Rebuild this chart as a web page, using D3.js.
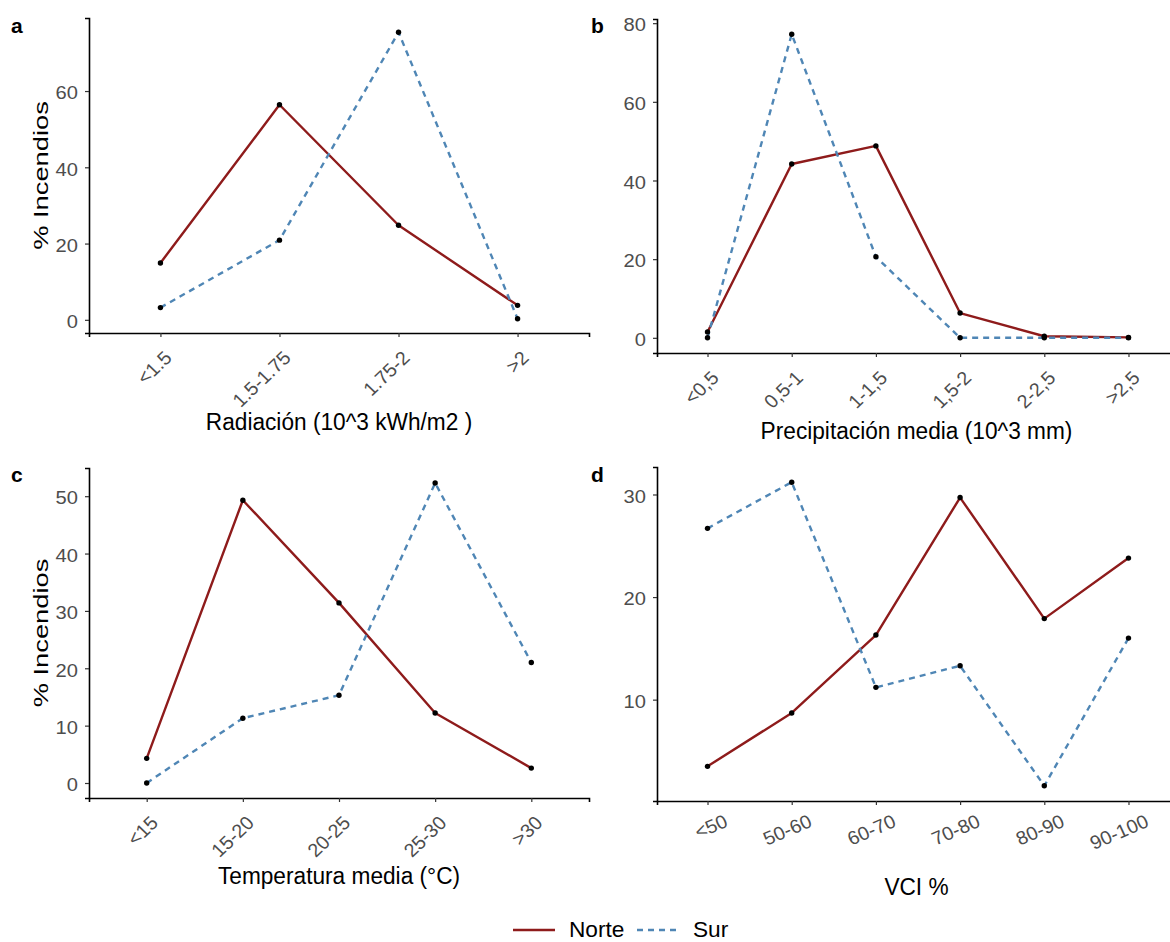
<!DOCTYPE html>
<html>
<head>
<meta charset="utf-8">
<script src="https://cdn.jsdelivr.net/npm/d3@7"></script>
<style>
  html, body { margin: 0; padding: 0; background: #fff; }
  svg { display: block; }
  text { font-family: "Liberation Sans", Arial, sans-serif; }
</style>
</head>
<body>
<svg id="chart" width="1170" height="942"></svg>
<script>
// ---------------- DATA ----------------
const seriesNames = ["Norte", "Sur"];

const catA = ["<1.5", "1.5-1.75", "1.75-2", ">2"];
const norteA = [14.9, 56.4, 24.8, 3.8];
const surA = [3.2, 20.9, 75.4, 0.3];
const ticksA = [0, 20, 40, 60];

const catB = ["<0,5", "0,5-1", "1-1,5", "1,5-2", "2-2,5", ">2,5"];
const norteB = [1.5, 44.2, 48.8, 6.3, 0.4, 0.1];
const surB = [0, 77.2, 20.6, 0, 0, 0];
const ticksB = [0, 20, 40, 60, 80];

const catC = ["<15", "15-20", "20-25", "25-30", ">30"];
const norteC = [4.3, 49.3, 31.4, 12.2, 2.6];
const surC = [0, 11.3, 15.3, 52.3, 21.0];
const ticksC = [0, 10, 20, 30, 40, 50];

const catD = ["<50", "50-60", "60-70", "70-80", "80-90", "90-100"];
const norteD = [3.5, 8.7, 16.3, 29.7, 17.9, 23.8];
const surD = [26.7, 31.2, 11.2, 13.3, 1.6, 16.0];
const ticksD = [10, 20, 30];

const xTitles = ["Radiación (10^3 kWh/m2 )", "Precipitación media (10^3 mm)", "Temperatura media (°C)", "VCI %"];
const yTitle = "% Incendios";
const tags = ["a", "b", "c", "d"];

// ---------------- STYLE / LAYOUT ----------------
const colNorte = "#8E1B1B";
const colSur = "#4F86B5";
const tickCol = "#4D4D4D";
const tickFont = 19, titleFont = 21;

const panels = [
  { cats: catA, norte: norteA, sur: surA, ticks: ticksA, xt: xTitles[0], tag: tags[0], yt: true,
    x0: 89, x1: 589, top: 18, bottom: 333, ang: -45, titleY: 430, tagX: 11, tagY: 33 },
  { cats: catB, norte: norteB, sur: surB, ticks: ticksB, xt: xTitles[1], tag: tags[1], yt: false,
    x0: 657, x1: 1179, top: 19, bottom: 353, ang: -45, titleY: 439, tagX: 591, tagY: 33 },
  { cats: catC, norte: norteC, sur: surC, ticks: ticksC, xt: xTitles[2], tag: tags[2], yt: true,
    x0: 89, x1: 589, top: 468, bottom: 798, ang: -45, titleY: 884, tagX: 11, tagY: 482 },
  { cats: catD, norte: norteD, sur: surD, ticks: ticksD, xt: xTitles[3], tag: tags[3], yt: false,
    x0: 657, x1: 1179, top: 467, bottom: 801, ang: -24, titleY: 895, tagX: 591, tagY: 482 }
];

const svg = d3.select("#chart");

function place(sel, x, y, rot, sx, sy) {
  sel.attr("transform", `translate(${x},${y}) scale(${sx},${sy})` + (rot ? ` rotate(${rot})` : ""));
}

panels.forEach(p => {
  const n = p.cats.length;
  const x = d3.scaleLinear().domain([0.4, n + 0.6]).range([p.x0, p.x1]);
  const all = p.norte.concat(p.sur);
  const lo = d3.min(all), hi = d3.max(all), pad = (hi - lo) * 0.05;
  const y = d3.scaleLinear().domain([lo - pad, hi + pad]).range([p.bottom, p.top]);

  const g = svg.append("g");

  // axes
  const xAxis = d3.axisBottom(x).tickValues(d3.range(1, n + 1)).tickFormat(i => p.cats[i - 1])
    .tickSizeOuter(0).tickSize(4).tickPadding(3);
  const gx = g.append("g").attr("transform", `translate(0,${p.bottom})`).call(xAxis);
  gx.select(".domain").attr("stroke", "#000").attr("stroke-width", 1.6);
  gx.selectAll(".tick line").attr("stroke", "#333").attr("stroke-width", 1.2);
  gx.selectAll(".tick text")
    .attr("fill", tickCol).attr("font-size", tickFont).attr("text-anchor", "end")
    .attr("dy", null).attr("y", null)
    .each(function() {
      const t = d3.select(this);
      if (p.ang === -45) place(t, 12, 26, p.ang, 1.04, 1);
      else place(t, 21, 25, p.ang, 1.04, 1);
    });

  const yAxis = d3.axisLeft(y).tickValues(p.ticks).tickSizeOuter(0).tickSize(4).tickPadding(3);
  const gy = g.append("g").attr("transform", `translate(${p.x0},0)`).call(yAxis);
  gy.select(".domain").attr("stroke", "#000").attr("stroke-width", 1.6);
  gy.selectAll(".tick line").attr("stroke", "#333").attr("stroke-width", 1.2);
  gy.selectAll(".tick text").attr("fill", tickCol).attr("font-size", tickFont)
    .attr("x", null).attr("dy", null).attr("dominant-baseline", "central").attr("text-anchor", "end")
    .each(function() { place(d3.select(this), -11, 1, 0, 1.06, 1); });

  // lines
  const line = d3.line().x((d, i) => x(i + 1)).y(d => y(d));
  g.append("path").datum(p.norte).attr("d", line).attr("fill", "none")
    .attr("stroke", colNorte).attr("stroke-width", 2.4).attr("stroke-linejoin", "round");
  g.append("path").datum(p.sur).attr("d", line).attr("fill", "none")
    .attr("stroke", colSur).attr("stroke-width", 2.4).attr("stroke-dasharray", "6,5");

  // points
  [p.norte, p.sur].forEach(s => {
    g.selectAll(null).data(s).enter().append("circle")
      .attr("cx", (d, i) => x(i + 1)).attr("cy", d => y(d)).attr("r", 2.7).attr("fill", "#000");
  });

  // x title
  g.append("text").text(p.xt).attr("font-size", titleFont).attr("fill", "#000").attr("text-anchor", "middle")
    .call(s => place(s, (p.x0 + Math.min(p.x1, 1176)) / 2, p.titleY, 0, 1.08, 1.12));

  // y title
  if (p.yt) {
    g.append("text").text(yTitle).attr("font-size", titleFont).attr("fill", "#000").attr("text-anchor", "middle")
      .call(s => place(s, 48, (p.top + p.bottom) / 2, -90, 1.0, 1.3));
  }

  // tag
  g.append("text").text(p.tag).attr("font-size", 20).attr("font-weight", "bold").attr("fill", "#000")
    .call(s => place(s, p.tagX, p.tagY, 0, 1.05, 1.05));
});

// legend
const leg = svg.append("g");
const legItems = [
  { name: seriesNames[0], col: colNorte, dash: null, x: 513 },
  { name: seriesNames[1], col: colSur, dash: "6,5", x: 637 }
];
legItems.forEach(it => {
  leg.append("line").attr("x1", it.x).attr("x2", it.x + 42).attr("y1", 930).attr("y2", 930)
    .attr("stroke", it.col).attr("stroke-width", 2.6).attr("stroke-dasharray", it.dash);
  leg.append("text").text(it.name).attr("font-size", titleFont).attr("fill", "#000")
    .call(s => place(s, it.x + 56, 937, 0, 1.08, 1.05));
});
</script>
</body>
</html>
